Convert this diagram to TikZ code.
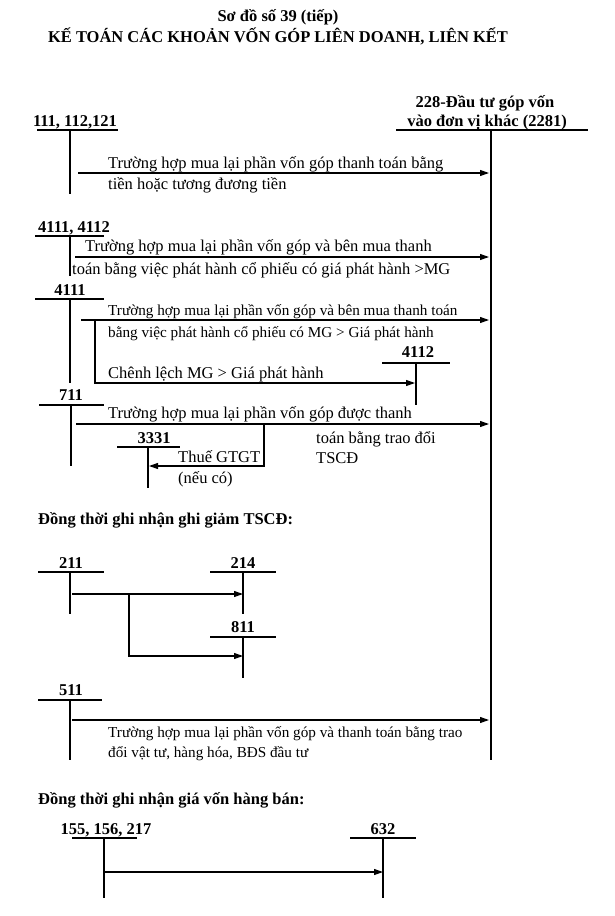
\documentclass[tikz,border=0pt]{standalone}
\usepackage{fontspec}
\setmainfont{Liberation Serif}
\usetikzlibrary{arrows.meta}
\tikzset{
  lbl/.style={font=\fontsize{16.5}{18}\selectfont\bfseries, inner sep=0pt},
  txt/.style={font=\fontsize{16.5}{18}\selectfont, inner sep=0pt, anchor=base west},
  stxt/.style={font=\fontsize{15.2}{17}\selectfont, inner sep=0pt, anchor=base west},
  acc/.style={line width=1.05pt},
  mainacc/.style={line width=2.4pt},
  arr/.style={line width=1.05pt, -{Triangle[length=9pt,width=6pt]}},
}
% T-account: name, label, label x, label baseline, line x1, line x2, line y, vertical x, vertical bottom
\newcommand\tacc[9]{%
  \node[lbl,anchor=base] (#1) at (#3,#4) {#2};
  \coordinate (#1-l) at (#5,#7); \coordinate (#1-r) at (#6,#7);
  \coordinate (#1-t) at (#8,#7); \coordinate (#1-b) at (#8,#9);
  \draw[acc] (#1-l) -- (#1-r);
  \draw[acc] (#1-t) -- (#1-b);
}
\begin{document}
\begin{tikzpicture}[x=1pt,y=-1pt]
\useasboundingbox[fill=white] (0,0) rectangle (614,916);

% titles
\node[lbl,anchor=base] (t1) at (278,21) {Sơ đồ số 39 (tiếp)};
\node[lbl,anchor=base] (t2) at (278,42) {KẾ TOÁN CÁC KHOẢN VỐN GÓP LIÊN DOANH, LIÊN KẾT};

% main account 228
\node[lbl,anchor=base] (k228a) at (485,107) {228-Đầu tư góp vốn};
\node[lbl,anchor=base] (k228b) at (487,126) {vào đơn vị khác (2281)};
\coordinate (m-l) at (396,130); \coordinate (m-r) at (588,130);
\coordinate (m-t) at (491,130); \coordinate (m-b) at (491,760);
\draw[mainacc] (m-l) -- (m-r);
\draw[mainacc] (m-t) -- (m-b);

% section 1
\tacc{k111}{111, 112,121}{75}{126}{37}{118}{130}{70}{194}
\coordinate (a1s) at (78,173); \coordinate (a1e) at (489,173);
\draw[arr] (a1s) -- (a1e);
\node[txt] (x1a) at (108,168) {Trường hợp mua lại phần vốn góp thanh toán bằng};
\node[txt] (x1b) at (108,189) {tiền hoặc tương đương tiền};

% section 2
\tacc{k41}{4111, 4112}{74}{232}{35}{104}{236}{70}{276}
\coordinate (a2s) at (75,257); \coordinate (a2e) at (489,257);
\draw[arr] (a2s) -- (a2e);
\node[txt] (x2a) at (85,251) {Trường hợp mua lại phần vốn góp và bên mua thanh};
\node[txt] (x2b) at (72,274) {toán bằng việc phát hành cổ phiếu có giá phát hành >MG};

% section 3
\tacc{k4111}{4111}{70}{295}{35}{104}{299}{70}{383}
\coordinate (a3s) at (81,320); \coordinate (a3e) at (489,320);
\draw[arr] (a3s) -- (a3e);
\node[stxt] (x3a) at (108,315) {Trường hợp mua lại phần vốn góp và bên mua thanh toán};
\node[stxt] (x3b) at (108,337) {bằng việc phát hành cổ phiếu có MG > Giá phát hành};
\tacc{k4112}{4112}{418}{357}{382}{450}{363}{416}{405}
\coordinate (b3a) at (95,320); \coordinate (b3b) at (95,383); \coordinate (b3c) at (415,383);
\draw[arr] (b3a) -- (b3b) -- (b3c);
\node[txt] (x3c) at (108,378) {Chênh lệch MG > Giá phát hành};

% section 4
\tacc{k711}{711}{71}{400}{39}{104}{405}{71}{466}
\coordinate (a4s) at (76,424); \coordinate (a4e) at (489,424);
\draw[arr] (a4s) -- (a4e);
\node[txt] (x4a) at (108,418) {Trường hợp mua lại phần vốn góp được thanh};
\node[txt] (x4b) at (316,443) {toán bằng trao đổi};
\node[txt] (x4c) at (316,463) {TSCĐ};
\tacc{k3331}{3331}{154}{443}{117}{180}{447}{148}{488}
\coordinate (b4a) at (264,424); \coordinate (b4b) at (264,466); \coordinate (b4c) at (149,466);
\draw[arr] (b4a) -- (b4b) -- (b4c);
\node[txt] (x4d) at (178,462) {Thuế GTGT};
\node[txt] (x4e) at (178,483) {(nếu có)};

% section 5
\node[lbl,anchor=base west] (h5) at (38,524) {Đồng thời ghi nhận ghi giảm TSCĐ:};
\tacc{k211}{211}{71}{568}{38}{104}{572}{70}{614}
\tacc{k214}{214}{243}{568}{210}{276}{572}{243}{614}
\tacc{k811}{811}{243}{632}{210}{276}{637}{243}{678}
\coordinate (a5s) at (72,594); \coordinate (a5e) at (243,594);
\draw[arr] (a5s) -- (a5e);
\coordinate (b5a) at (129,594); \coordinate (b5b) at (129,656); \coordinate (b5c) at (243,656);
\draw[arr] (b5a) -- (b5b) -- (b5c);

% section 6
\tacc{k511}{511}{71}{695}{38}{102}{700}{70}{760}
\coordinate (a6s) at (72,720); \coordinate (a6e) at (489,720);
\draw[arr] (a6s) -- (a6e);
\node[stxt] (x6a) at (108,737) {Trường hợp mua lại phần vốn góp và thanh toán bằng trao};
\node[stxt] (x6b) at (108,757) {đổi vật tư, hàng hóa, BĐS đầu tư};

% section 7
\node[lbl,anchor=base west] (h7) at (38,804) {Đồng thời ghi nhận giá vốn hàng bán:};
\tacc{k155}{155, 156, 217}{106}{834}{72}{137}{838}{104}{898}
\tacc{k632}{632}{383}{834}{350}{416}{838}{383}{898}
\coordinate (a7s) at (104,872); \coordinate (a7e) at (383,872);
\draw[arr] (a7s) -- (a7e);
\end{tikzpicture}
\end{document}
